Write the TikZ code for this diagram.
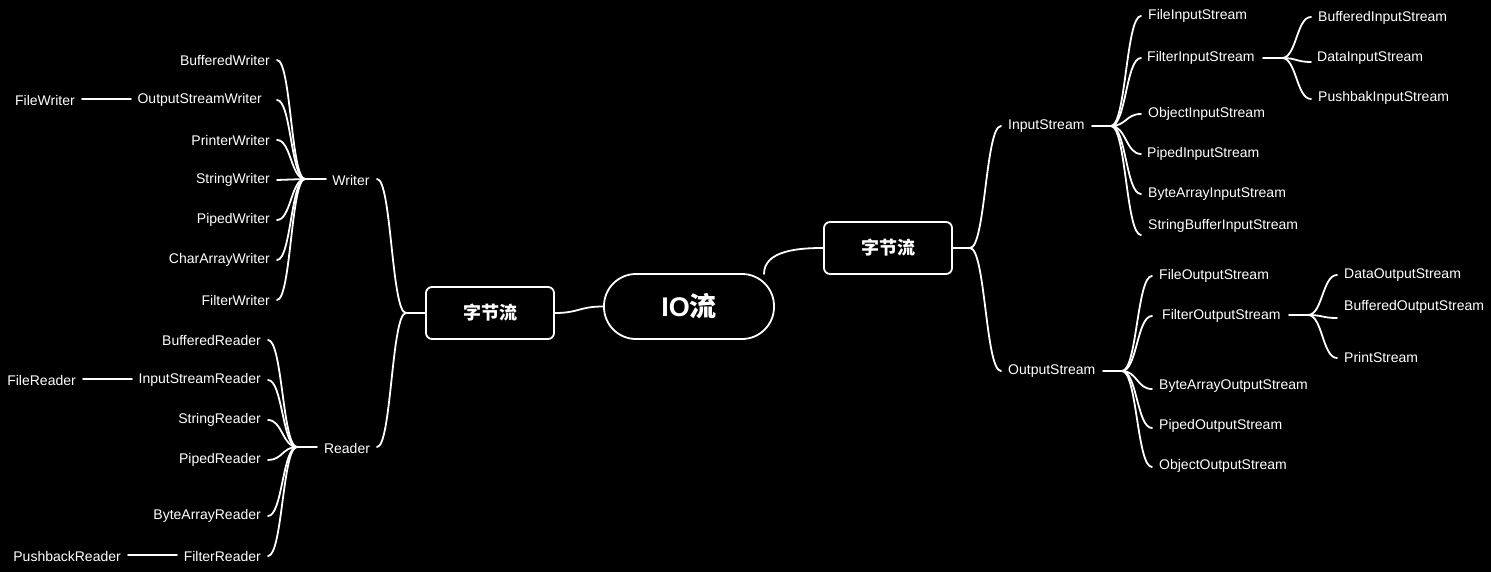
\documentclass[tikz,border=0pt]{standalone}
\usepackage{fontspec}
\setmainfont{Liberation Sans}
\newfontfamily\cjk{Noto Sans CJK SC}
\usetikzlibrary{calc}
\begin{document}
\begin{tikzpicture}[x=1pt,y=-1pt,
  lbl/.style={text=white,inner sep=0pt,font=\fontsize{14}{16}\selectfont},
  ln/.style={draw=white,line width=1.8pt,line cap=round},
  br/.style={ln,to path={let \p1=(\tikztostart),\p2=(\tikztotarget) in .. controls (\x1/2+\x2/2,\y1) and (\x1/2+\x2/2,\y2) .. (\tikztotarget)}},
  box/.style={draw=white,line width=1.8pt,rounded corners=6pt,text=white,font=\cjk\bfseries\fontsize{18}{20}\selectfont,minimum width=128pt,minimum height=52pt,inner sep=0pt}]
\fill[black] (0,0) rectangle (1491,572);
\useasboundingbox (0,0) rectangle (1491,572);
% central
\node[draw=white,line width=1.8pt,rounded corners=32pt,minimum width=170pt,minimum height=65pt,text=white,inner sep=0pt,font=\bfseries\fontsize{27}{30}\selectfont] (io) at (689,306.5) {IO{\cjk 流}};
\node[box] (L) at (490,313) {字节流};
\node[box] (R) at (888,248) {字节流};
\draw[br] (io.west) to (L.east);
\draw[ln] (764,274) .. controls (764,250) and (800,248) .. (R.west);
% ---------- left ----------
\coordinate (Lj) at (406,313);
\draw[ln] (L.west) -- (Lj);
\node[lbl] (wr) at (351,180) {Writer};
\node[lbl] (rd) at (347,448) {Reader};
\coordinate (wrE) at (377,179); \coordinate (rdE) at (377,447);
\draw[br] (Lj) to (wrE); \draw[br] (Lj) to (rdE);
\coordinate (wrJ) at (305,179); \draw[ln] (wrJ) -- (326,179);
\coordinate (rdJ) at (297,447); \draw[ln] (rdJ) -- (317,447);
\foreach \nm/\yy in {bwE/60,oswE/100,pwE/140,swE/180,piwE/220,cawE/260,fwE/300}{
  \coordinate (\nm) at (277,\yy); \draw[br] (wrJ) to (\nm);
}
\node[lbl,anchor=east] (bw) at (270,60) {BufferedWriter};
\node[lbl,anchor=east] (osw) at (262,100) {OutputStreamWriter};
\node[lbl,anchor=east] (pw) at (270,140) {PrinterWriter};
\node[lbl,anchor=east] (sw) at (270,180) {StringWriter};
\node[lbl,anchor=east] (piw) at (270,220) {PipedWriter};
\node[lbl,anchor=east] (caw) at (270,260) {CharArrayWriter};
\node[lbl,anchor=east] (fw) at (270,300) {FilterWriter};
\coordinate (oswJ) at (113,99); \draw[ln] (oswJ) -- (131,99);
\node[lbl,anchor=east] (fiw) at (75,100) {FileWriter};
\coordinate (fiwE) at (82,99); \draw[br] (oswJ) to (fiwE);
\foreach \nm/\yy in {brE/340,isrE/380,srE/420,prE/460,barE/516,frE/556}{
  \coordinate (\nm) at (268,\yy); \draw[br] (rdJ) to (\nm);
}
\node[lbl,anchor=east] (br1) at (261,340) {BufferedReader};
\node[lbl,anchor=east] (isr) at (261,380) {InputStreamReader};
\node[lbl,anchor=east] (sr) at (261,420) {StringReader};
\node[lbl,anchor=east] (pr) at (261,460) {PipedReader};
\node[lbl,anchor=east] (bar) at (261,516) {ByteArrayReader};
\node[lbl,anchor=east] (fr) at (261,556) {FilterReader};
\coordinate (isrJ) at (115,379); \draw[ln] (isrJ) -- (132,379);
\node[lbl,anchor=east] (fir) at (76,380) {FileReader};
\coordinate (firE) at (83,379); \draw[br] (isrJ) to (firE);
\coordinate (frJ) at (159,555); \draw[ln] (frJ) -- (177,555);
\node[lbl,anchor=east] (pbr) at (121,556) {PushbackReader};
\coordinate (pbrE) at (128,555); \draw[br] (frJ) to (pbrE);
% ---------- right ----------
\coordinate (Rj) at (970,248);
\draw[ln] (R.east) -- (Rj);
\node[lbl,anchor=west] (is) at (1008,126) {InputStream};
\node[lbl,anchor=west] (os) at (1008,371) {OutputStream};
\coordinate (isE) at (1001,126); \coordinate (osE) at (1001,371);
\draw[br] (Rj) to (isE); \draw[br] (Rj) to (osE);
\coordinate (isJ) at (1111,126); \draw[ln] (1092,126) -- (isJ);
\coordinate (osJ) at (1122,371); \draw[ln] (1103,371) -- (osJ);
\foreach \nm/\yy in {fisE/16,filisE/58,oisE/114,pisE/154,baisE/194,sbisE/235}{
  \coordinate (\nm) at (1141,\yy); \draw[br] (isJ) to (\nm);
}
\node[lbl,anchor=west] (fis) at (1148,16) {FileInputStream};
\node[lbl,anchor=west] (filis) at (1147,58) {FilterInputStream};
\node[lbl,anchor=west] (ois) at (1148,114) {ObjectInputStream};
\node[lbl,anchor=west] (pis) at (1147,154) {PipedInputStream};
\node[lbl,anchor=west] (bais) at (1148,194) {ByteArrayInputStream};
\node[lbl,anchor=west] (sbis) at (1148,226) {StringBufferInputStream};
\coordinate (filisJ) at (1282,58); \draw[ln] (1263,58) -- (filisJ);
\foreach \nm/\yy in {bisE/17,disE/62,pbisE/99}{
  \coordinate (\nm) at (1311,\yy); \draw[br] (filisJ) to (\nm);
}
\node[lbl,anchor=west] (bis) at (1318,18) {BufferedInputStream};
\node[lbl,anchor=west] (dis) at (1317,58) {DataInputStream};
\node[lbl,anchor=west] (pbis) at (1318,98) {PushbakInputStream};
\foreach \nm/\yy in {fosE/276,filosE/316,baosE/389,posE/428,oosE/467}{
  \coordinate (\nm) at (1152,\yy); \draw[br] (osJ) to (\nm);
}
\node[lbl,anchor=west] (fos) at (1159,276) {FileOutputStream};
\node[lbl,anchor=west] (filos) at (1162,316) {FilterOutputStream};
\node[lbl,anchor=west] (baos) at (1159,386) {ByteArrayOutputStream};
\node[lbl,anchor=west] (pos) at (1159,426) {PipedOutputStream};
\node[lbl,anchor=west] (oos) at (1159,466) {ObjectOutputStream};
\coordinate (filosJ) at (1308,315); \draw[ln] (1289,315) -- (filosJ);
\foreach \nm/\yy in {dosE/275,bosE/318,psE/358}{
  \coordinate (\nm) at (1337,\yy); \draw[br] (filosJ) to (\nm);
}
\node[lbl,anchor=west] (dos) at (1344,275) {DataOutputStream};
\node[lbl,anchor=west] (bos) at (1344,307) {BufferedOutputStream};
\node[lbl,anchor=west] (ps) at (1344,357) {PrintStream};
\end{tikzpicture}
\end{document}
